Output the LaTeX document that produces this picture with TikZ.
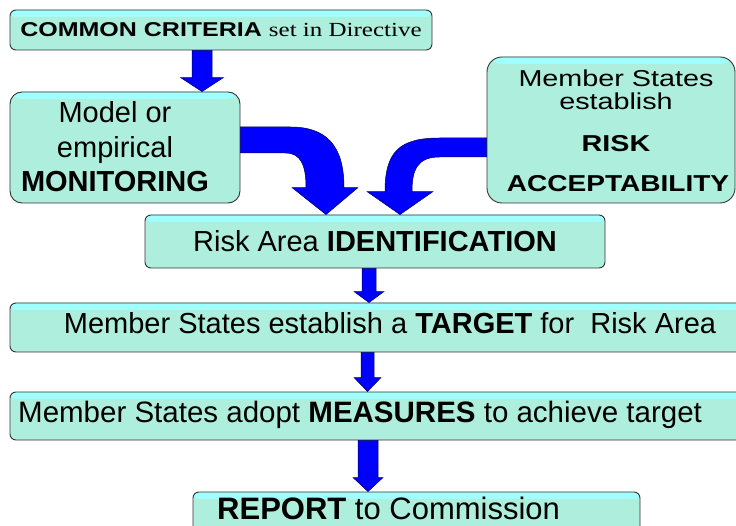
\documentclass[tikz,border=0pt]{standalone}
\usepackage{fontspec}
\usepackage{graphicx}
\setmainfont{Liberation Sans}
\newfontfamily\serifface{Liberation Serif}
\usetikzlibrary{calc}
\definecolor{boxfill}{RGB}{174,238,220}
\definecolor{boxtop}{RGB}{160,255,255}
\definecolor{arrowblue}{RGB}{0,0,255}
\definecolor{arrowline}{RGB}{0,0,90}
\tikzset{
  boxnode/.style={draw=black!80, line width=0.9pt, fill=boxfill, rounded corners=#1, inner sep=0pt,
    path picture={\fill[top color=boxtop, bottom color=boxfill] (path picture bounding box.north west) rectangle ([yshift=-7pt]path picture bounding box.north east);}},
  boxnode/.default=6pt,
  blockarrow/.style={fill=arrowblue, draw=arrowline, line width=0.5pt, line join=miter},
  txt/.style={inner sep=0pt, anchor=base, text=black},
  bigtxt/.style={font=\fontsize{29}{35}\selectfont},
}
\newcommand{\vblockarrow}[6]{%
  \draw[blockarrow] ($(#3 |- #1.south)+(-#4,0)$) -- ($(#3 |- #2.north)+(-#4,-#6)$)
    -- ($(#3 |- #2.north)+(-#5,-#6)$) -- (#3 |- #2.north) -- ($(#3 |- #2.north)+(#5,-#6)$)
    -- ($(#3 |- #2.north)+(#4,-#6)$) -- ($(#3 |- #1.south)+(#4,0)$) -- cycle;}
\begin{document}
\begin{tikzpicture}[x=1pt,y=-1pt]
\clip (0,0) rectangle (736,526);
% boxes
\node[boxnode, minimum width=422pt, minimum height=40pt] (crit) at (221,30)
  {\scalebox{1.25}[1]{\fontsize{20}{24}\selectfont\textbf{COMMON CRITERIA} {\serifface set in Directive}}};
\node[boxnode=12pt, minimum width=230pt, minimum height=111pt] (mon) at (125,147.5) {};
\node[boxnode=15pt, minimum width=248pt, minimum height=146pt] (accept) at (611,130) {};
\node[boxnode, bigtxt, minimum width=460pt, minimum height=53pt] (risk) at (375,241.5) {Risk Area \textbf{IDENTIFICATION}};
\node[boxnode, minimum width=736pt, minimum height=49pt] (target) at (378,327.5) {};
\node[boxnode, minimum width=736pt, minimum height=48pt] (meas) at (378,416) {};
\node[boxnode, minimum width=447pt, minimum height=50pt] (report) at (416.5,517) {};
% texts
\node[txt, bigtxt] (mon1) at (115,123) {Model or};
\node[txt, bigtxt] (mon2) at (115,158) {empirical};
\node[txt, bigtxt] (mon3) at (115,192) {\textbf{MONITORING}};
\node[txt] (acc1) at (616,87) {\scalebox{1.25}[1]{\fontsize{23}{26}\selectfont Member States}};
\node[txt] (acc2) at (616,110) {\scalebox{1.25}[1]{\fontsize{23}{26}\selectfont establish}};
\node[txt] (acc3) at (616,152) {\scalebox{1.25}[1]{\fontsize{23}{26}\selectfont\bfseries RISK}};
\node[txt] (acc4) at (618,192) {\scalebox{1.22}[1]{\fontsize{23}{26}\selectfont\bfseries ACCEPTABILITY}};
\node[txt, bigtxt] (targettxt) at (390,334) {Member States establish a \textbf{TARGET} for\ \ Risk Area};
\node[txt, anchor=base west, font=\fontsize{29.5}{35}\selectfont] (meastxt) at (18,422) {Member States adopt \textbf{MEASURES} to achieve target};
\node[txt, anchor=base west, font=\fontsize{31}{36}\selectfont] (reporttxt) at (217,519) {\textbf{REPORT} to Commission};
% straight arrows
\coordinate (colA) at (202,0);
\coordinate (colB) at (369,0);
\coordinate (colC) at (367.5,0);
\coordinate (colD) at (368,0);
\vblockarrow{crit}{mon}{colA}{10}{21.5}{14}
\vblockarrow{risk}{target}{colB}{7}{15}{11}
\vblockarrow{target}{meas}{colC}{6.5}{13.5}{14}
\vblockarrow{meas}{report}{colD}{10}{15}{14}
% curved arrows
\coordinate (S1) at (mon.east);
\coordinate (T1) at ($(risk.north)+(-49,0)$);
\draw[blockarrow] ($(S1)+(0,-20.5)$) -- ($(S1)+(50,-20.5)$)
  .. controls ($(S1)+(85,-20.5)$) and ($(T1)+(18,-70)$) .. ($(T1)+(18,-27)$)
  -- ($(T1)+(32,-27)$) -- (T1) -- ($(T1)+(-34,-27)$) -- ($(T1)+(-20,-27)$)
  .. controls ($(T1)+(-20,-50)$) and ($(S1)+(60,5.5)$) .. ($(S1)+(45,5.5)$)
  -- ($(S1)+(0,5.5)$) -- cycle;
\coordinate (S2) at (accept.west);
\coordinate (T2) at ($(risk.north)+(25,0)$);
\draw[blockarrow] ($(S2)+(0,8)$) -- ($(S2)+(-47,8)$)
  .. controls ($(S2)+(-87,8)$) and ($(T2)+(-15,-63)$) .. ($(T2)+(-15,-23)$)
  -- ($(T2)+(-33,-23)$) -- (T2) -- ($(T2)+(33,-23)$) -- ($(T2)+(12,-23)$)
  .. controls ($(T2)+(12,-45)$) and ($(S2)+(-69,27)$) .. ($(S2)+(-47,27)$)
  -- ($(S2)+(0,27)$) -- cycle;
\end{tikzpicture}
\end{document}
